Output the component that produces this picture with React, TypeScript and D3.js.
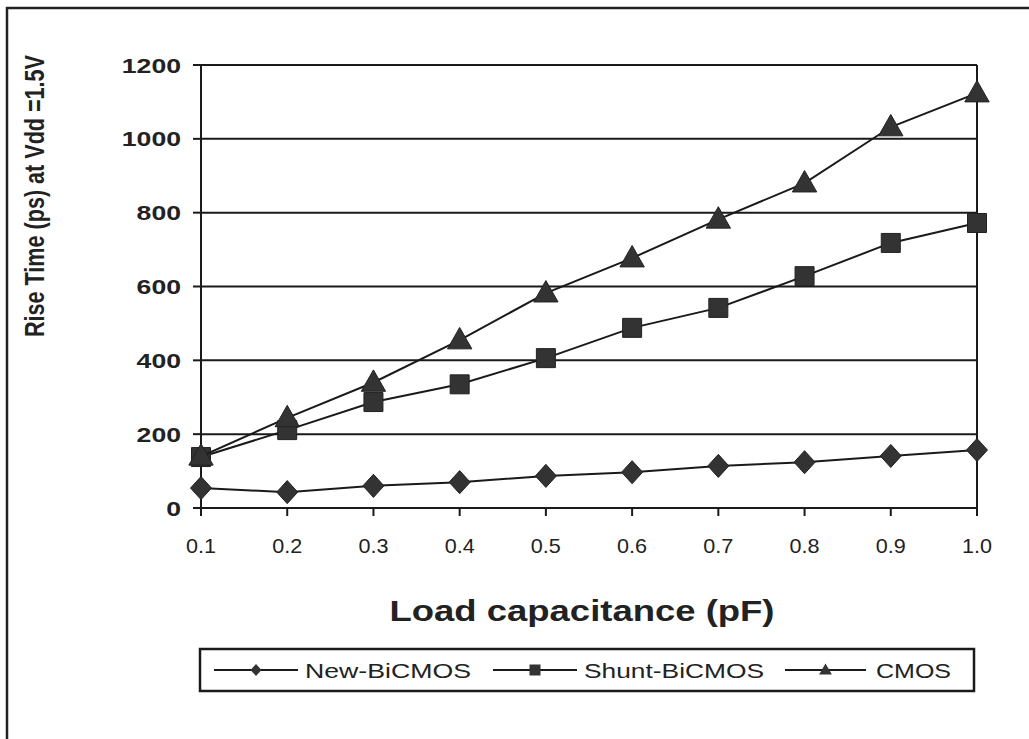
import React from "react";
import * as d3 from "d3";

const categories = [0.1, 0.2, 0.3, 0.4, 0.5, 0.6, 0.7, 0.8, 0.9, 1.0];
const tickLabels = ["0.1", "0.2", "0.3", "0.4", "0.5", "0.6", "0.7", "0.8", "0.9", "1.0"];
const yTicks = [0, 200, 400, 600, 800, 1000, 1200];
const newBiCMOS = [54, 43, 60, 70, 87, 97, 114, 124, 141, 157];
const shuntBiCMOS = [138, 211, 287, 335, 406, 488, 542, 628, 718, 772];
const cmos = [140, 244, 340, 455, 582, 677, 782, 880, 1032, 1124];
const seriesNames = ["New-BiCMOS", "Shunt-BiCMOS", "CMOS"];

const W = 1029;
const H = 739;
const M = { left: 201, right: 977, top: 65, bottom: 508 };

export default function App() {
  const x = d3.scalePoint<number>().domain(categories).range([M.left, M.right]);
  const y = d3.scaleLinear().domain([0, 1200]).range([M.bottom, M.top]);
  const line = d3
    .line<number>()
    .x((_, i) => x(categories[i]) as number)
    .y((d) => y(d));

  const series = [
    { name: seriesNames[0], values: newBiCMOS, marker: "diamond" },
    { name: seriesNames[1], values: shuntBiCMOS, marker: "square" },
    { name: seriesNames[2], values: cmos, marker: "triangle" },
  ];

  const markerPath = (type: string, s: number) => {
    if (type === "diamond") return `M0,${-s * 0.55}L${s * 0.5},0L0,${s * 0.55}L${-s * 0.5},0Z`;
    if (type === "square") return `M${-s / 2},${-s / 2}h${s}v${s}h${-s}Z`;
    return `M0,${-s * 0.6}L${s * 0.58},${s * 0.42}L${-s * 0.58},${s * 0.42}Z`;
  };

  const legendItems = [
    { x1: 214, x2: 298, tx: 305, tl: 166, marker: "diamond" },
    { x1: 493, x2: 577, tx: 584, tl: 180, marker: "square" },
    { x1: 785, x2: 866, tx: 876, tl: 75, marker: "triangle" },
  ];

  return (
    <svg
      width={W}
      height={H}
      style={{ position: "absolute", left: 0, top: 0, background: "#fff" }}
      fontFamily="'Liberation Sans', Arial, sans-serif"
    >
      <rect x={0} y={0} width={W} height={H} fill="#fff" />
      {/* outer frame */}
      <path d={`M7,${H + 5}V8H${W + 5}`} fill="none" stroke="#222" strokeWidth={2.5} />

      {/* gridlines */}
      {yTicks.map((t) => (
        <g key={t}>
          <line x1={M.left} x2={M.right} y1={y(t)} y2={y(t)} stroke="#1a1a1a" strokeWidth={2} />
          <line x1={M.left - 8} x2={M.left} y1={y(t)} y2={y(t)} stroke="#1a1a1a" strokeWidth={2} />
          <text
            x={181}
            y={y(t)}
            dy="0.36em"
            textAnchor="end"
            fontSize={21}
            fontWeight="bold"
            fill="#222"
            textLength={String(t).length * 14.8}
            lengthAdjust="spacingAndGlyphs"
          >
            {t}
          </text>
        </g>
      ))}
      {/* axes */}
      <line x1={M.left} x2={M.left} y1={M.top} y2={M.bottom + 8} stroke="#1a1a1a" strokeWidth={2} />
      <line x1={M.right} x2={M.right} y1={M.top} y2={M.bottom + 8} stroke="#1a1a1a" strokeWidth={2} />
      {categories.map((c, i) => (
        <g key={c}>
          <line x1={x(c)} x2={x(c)} y1={M.bottom} y2={M.bottom + 8} stroke="#1a1a1a" strokeWidth={2} />
          <text
            x={x(c)}
            y={545}
            dy="0.36em"
            textAnchor="middle"
            fontSize={21}
            fill="#222"
            textLength={30}
            lengthAdjust="spacingAndGlyphs"
          >
            {tickLabels[i]}
          </text>
        </g>
      ))}

      {/* series */}
      {series.map((s) => (
        <g key={s.name}>
          <path d={line(s.values) || ""} fill="none" stroke="#1a1a1a" strokeWidth={2} />
          {s.values.map((v, i) => (
            <path
              key={i}
              transform={`translate(${x(categories[i])},${y(v)})`}
              d={markerPath(s.marker, s.marker === "square" ? 19 : 21)}
              fill="#333"
              stroke="#222"
              strokeWidth={1}
            />
          ))}
        </g>
      ))}

      {/* axis titles */}
      <text
        transform="translate(34,196) rotate(-90)"
        textAnchor="middle"
        dy="0.36em"
        fontSize={27}
        fontWeight="bold"
        fill="#222"
        textLength={282}
        lengthAdjust="spacingAndGlyphs"
      >
        Rise Time (ps) at Vdd =1.5V
      </text>
      <text
        x={582}
        y={611}
        dy="0.36em"
        textAnchor="middle"
        fontSize={29}
        fontWeight="bold"
        fill="#222"
        textLength={385}
        lengthAdjust="spacingAndGlyphs"
      >
        Load capacitance (pF)
      </text>

      {/* legend */}
      <rect x={200} y={649} width={774} height={42} fill="#fff" stroke="#1a1a1a" strokeWidth={2.5} />
      {series.map((s, i) => {
        const li = legendItems[i];
        const cx = (li.x1 + li.x2) / 2;
        return (
          <g key={s.name}>
            <line x1={li.x1} x2={li.x2} y1={670} y2={670} stroke="#1a1a1a" strokeWidth={2} />
            <path transform={`translate(${cx},670)`} d={markerPath(s.marker, 11)} fill="#333" />
            <text
              x={li.tx}
              y={670}
              dy="0.36em"
              fontSize={21}
              fill="#222"
              textLength={li.tl}
              lengthAdjust="spacingAndGlyphs"
            >
              {s.name}
            </text>
          </g>
        );
      })}
    </svg>
  );
}
